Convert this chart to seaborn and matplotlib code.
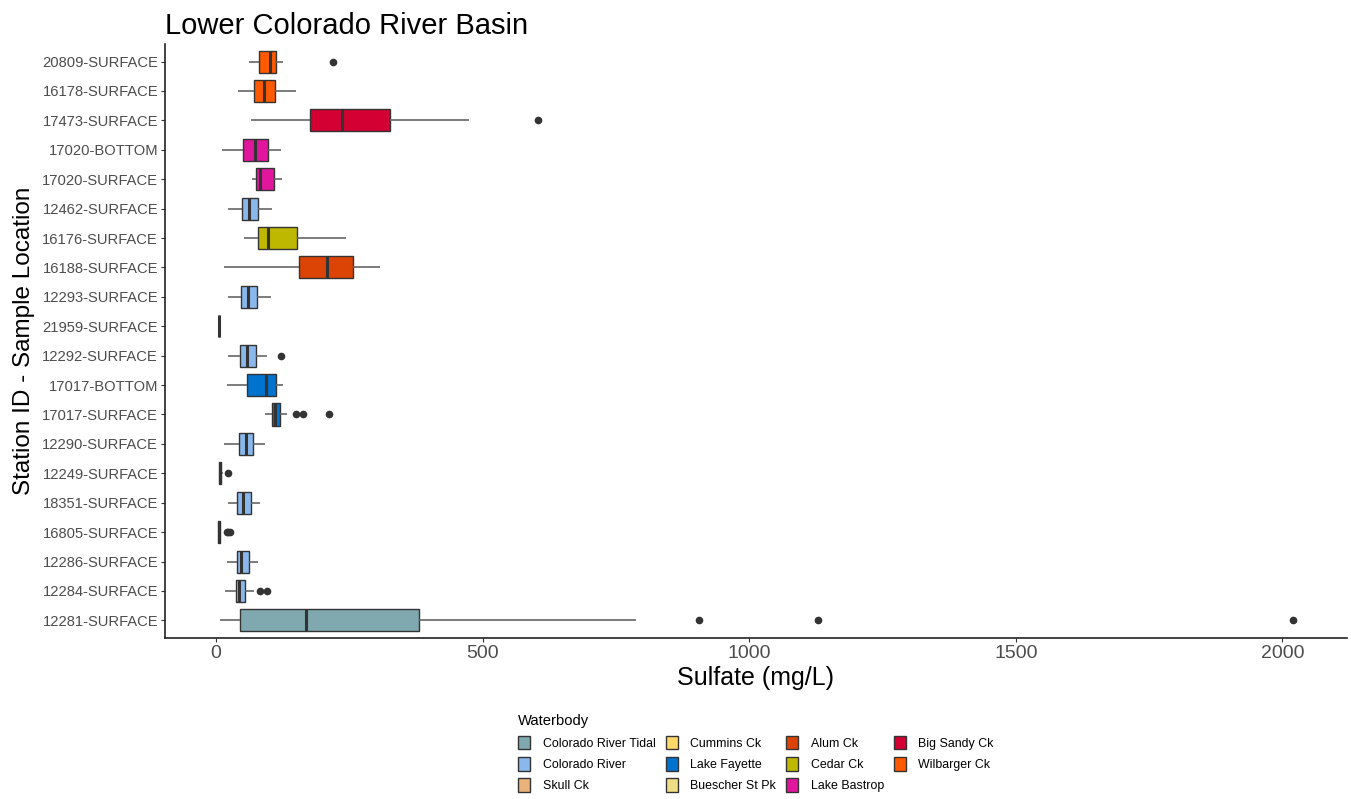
import numpy as np
import pandas as pd
import matplotlib
matplotlib.use('Agg')
import matplotlib.pyplot as plt
import seaborn as sns

# Estações (de cima para baixo) e corpo d'água de cada uma
stations = ['20809-SURFACE', '16178-SURFACE', '17473-SURFACE', '17020-BOTTOM',
            '17020-SURFACE', '12462-SURFACE', '16176-SURFACE', '16188-SURFACE',
            '12293-SURFACE', '21959-SURFACE', '12292-SURFACE', '17017-BOTTOM',
            '17017-SURFACE', '12290-SURFACE', '12249-SURFACE', '18351-SURFACE',
            '16805-SURFACE', '12286-SURFACE', '12284-SURFACE', '12281-SURFACE']
waterbody = ['Wilbarger Ck', 'Wilbarger Ck', 'Big Sandy Ck', 'Lake Bastrop',
             'Lake Bastrop', 'Colorado River', 'Cedar Ck', 'Alum Ck',
             'Colorado River', 'Buescher St Pk', 'Colorado River', 'Lake Fayette',
             'Lake Fayette', 'Colorado River', 'Cummins Ck', 'Colorado River',
             'Skull Ck', 'Colorado River', 'Colorado River', 'Colorado River Tidal']

# Resumo de cinco números (mg/L)
whisker_lo = [62.5, 41.8, 66.2, 10.7, 66.9, 22.5, 53.1, 14.4, 23.1, 5.6,
              23.1, 20.0, 92.5, 14.4, 5.0, 21.9, 3.5, 20.0, 17.4, 7.5]
q1 = [81.2, 70.7, 176.8, 50.6, 75.0, 48.8, 79.3, 155.0, 46.9, 5.6,
      45.0, 58.1, 104.4, 43.1, 5.6, 40.0, 4.4, 39.4, 37.5, 45.6]
median = [101.3, 90.0, 236.8, 73.1, 82.5, 62.5, 97.5, 207.6, 60.6, 5.6,
          57.5, 93.2, 111.2, 56.2, 7.5, 51.2, 5.5, 47.4, 43.7, 168.0]
q3 = [112.5, 110.0, 326.8, 98.1, 108.8, 78.2, 151.3, 257.4, 76.3, 5.6,
      74.4, 111.9, 120.0, 70.0, 9.4, 65.6, 7.5, 61.9, 54.5, 380.0]
whisker_hi = [126.2, 150.6, 475.0, 122.4, 124.3, 105.0, 243.8, 308.0, 102.6, 5.6,
              95.6, 126.2, 133.1, 91.9, 12.0, 81.9, 9.0, 78.8, 71.8, 787.5]
outliers = [[219.4], [], [603.0], [], [], [], [], [], [], [],
            [122.0], [], [150.6, 163.7, 211.9], [], [22.0], [], [19.5, 22.0, 25.5],
            [], [82.0, 95.6], [905.6, 1129.0, 2020.0]]

waterbodies = ['Colorado River Tidal', 'Colorado River', 'Skull Ck', 'Cummins Ck',
               'Lake Fayette', 'Buescher St Pk', 'Alum Ck', 'Cedar Ck',
               'Lake Bastrop', 'Big Sandy Ck', 'Wilbarger Ck']
colors = ['#7FA9AE', '#8AB8EC', '#E8B27A', '#FFD86A', '#0073CF', '#EFDD85',
          '#DC4405', '#BEB800', '#E0169D', '#D30033', '#FF5A00']


def expand(lo, a, m, b, hi, out):
    # amostra ordenada cujos quartis (interpolação linear) batem com o resumo lido
    k = len(out) + 2
    vals = [lo] + [a] * k + [m] * k + [b] * k + [b] * (k - len(out) - 1) + [hi] + list(out)
    return vals


rows = []
for i, st in enumerate(stations):
    for v in expand(whisker_lo[i], q1[i], median[i], q3[i], whisker_hi[i], outliers[i]):
        rows.append({'station': st, 'waterbody': waterbody[i], 'sulfate': v})
df = pd.DataFrame(rows)

sns.set_theme(style='white')
plt.rcParams['font.family'] = ['Liberation Sans', 'DejaVu Sans']
plt.rcParams['text.color'] = 'black'
plt.rcParams['axes.labelcolor'] = 'black'

fig, ax = plt.subplots(figsize=(13.51, 7.99), dpi=100)
fig.subplots_adjust(left=0.1221, right=0.997, bottom=0.2015, top=0.945)

sns.boxplot(data=df, x='sulfate', y='station', hue='waterbody',
            order=stations, hue_order=waterbodies,
            palette=dict(zip(waterbodies, colors)), saturation=1,
            dodge=False, width=0.75, showcaps=False,
            linecolor='#333333', linewidth=1.0,
            whiskerprops={'color': '#666666', 'linewidth': 1.2},
            medianprops={'color': '#333333', 'linewidth': 2.2},
            flierprops={'marker': 'o', 'markerfacecolor': '#333333',
                        'markeredgecolor': '#333333', 'markersize': 4.5},
            ax=ax)

ax.set_xlim(-96, 2121)
ax.set_ylim(19.6, -0.6)
ax.set_xticks([0, 500, 1000, 1500, 2000])

ax.set_title('Lower Colorado River Basin', loc='left', fontsize=21, pad=7, color='black')
ax.set_xlabel('Sulfate (mg/L)', fontsize=18, labelpad=3, color='black')
ax.set_ylabel('Station ID - Sample Location', fontsize=17.5, labelpad=5, color='black')

ax.tick_params(axis='x', labelsize=14, labelcolor='#4D4D4D', colors='#333333',
               length=3, width=0.8, pad=2, bottom=True)
ax.tick_params(axis='y', labelsize=10.6, labelcolor='#4D4D4D', colors='#333333',
               length=3, width=0.8, pad=2, left=True)
for lab in ax.get_xticklabels() + ax.get_yticklabels():
    lab.set_color('#4D4D4D')

sns.despine(ax=ax)
for side in ['left', 'bottom']:
    ax.spines[side].set_color('#222222')
    ax.spines[side].set_linewidth(1.2)

sns.move_legend(ax, 'upper center', bbox_to_anchor=(0.5, -0.11), ncol=4,
                frameon=False, title='Waterbody', fontsize=8.9,
                title_fontsize=10.6, alignment='left',
                handlelength=1.0, handleheight=1.3, handletextpad=1.0,
                columnspacing=0.8, labelspacing=0.6)
for t in ax.get_legend().get_texts():
    t.set_color('black')

plt.savefig('out.png', dpi=100)
